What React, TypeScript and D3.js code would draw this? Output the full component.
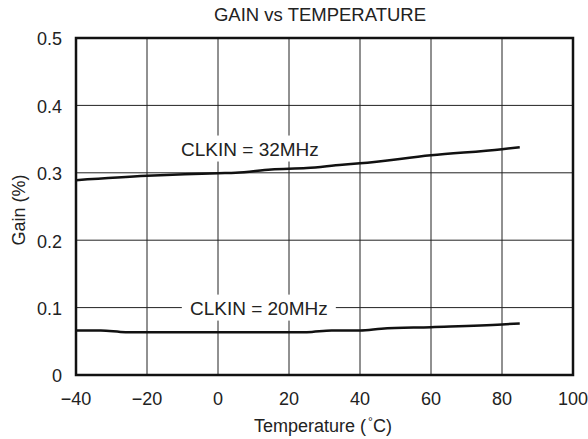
import React from "react";
import * as d3 from "d3";

const xTicks = [-40, -20, 0, 20, 40, 60, 80, 100];
const yTicks = [0, 0.1, 0.2, 0.3, 0.4, 0.5];
const yTickLabels = ["0", "0.1", "0.2", "0.3", "0.4", "0.5"];

const temp32 = [-40, -20, 0, 5, 15, 25, 35, 40, 60, 80, 85];
const gain32 = [0.289, 0.2955, 0.2995, 0.3, 0.305, 0.307, 0.312, 0.314, 0.326, 0.335, 0.338];

const temp20 = [-40, -33, -26, 25, 32, 40, 46, 60, 80, 85];
const gain20 = [0.066, 0.066, 0.0635, 0.0635, 0.066, 0.066, 0.0685, 0.071, 0.075, 0.0765];

const seriesLabels = [
  { text: "CLKIN = 32MHz", t: 9, g: 0.336 },
  { text: "CLKIN = 20MHz", t: 11.5, g: 0.1 },
];

const W = 588;
const H = 439;
const M = { left: 76, right: 15, top: 38, bottom: 64 };
const FONT = "'Liberation Sans', Arial, sans-serif";

export default function App() {
  const x = d3.scaleLinear().domain([-40, 100]).range([M.left, W - M.right]);
  const y = d3.scaleLinear().domain([0, 0.5]).range([H - M.bottom, M.top]);
  const line = d3
    .line<[number, number]>()
    .x((d) => x(d[0]))
    .y((d) => y(d[1]))
    .curve(d3.curveMonotoneX);
  const d32 = line(temp32.map((t, i) => [t, gain32[i]]));
  const d20 = line(temp20.map((t, i) => [t, gain20[i]]));
  const fs = 18;

  return (
    <svg width={W} height={H} style={{ position: "absolute", left: 0, top: 0, background: "#fff" }}>
      <rect width={W} height={H} fill="#fff" />
      {/* grid */}
      {xTicks.slice(1, -1).map((t) => (
        <line key={"gx" + t} x1={x(t)} x2={x(t)} y1={y(0.5)} y2={y(0)} stroke="#222" strokeWidth={1} />
      ))}
      {yTicks.slice(1, -1).map((t) => (
        <line key={"gy" + t} x1={x(-40)} x2={x(100)} y1={y(t)} y2={y(t)} stroke="#222" strokeWidth={1} />
      ))}
      {/* series label boxes */}
      {seriesLabels.map((l) => {
        const tw = 140;
        return (
          <g key={l.text}>
            <rect x={x(l.t) - tw / 2 - 7} y={y(l.g) - 13} width={tw + 14} height={26} fill="#fff" />
            <text x={x(l.t)} y={y(l.g) + 1} dy="0.35em" textAnchor="middle" fontFamily={FONT} fontSize={19} fill="#222">
              {l.text}
            </text>
          </g>
        );
      })}
      {/* lines */}
      <path d={d32 || ""} fill="none" stroke="#111" strokeWidth={2.5} />
      <path d={d20 || ""} fill="none" stroke="#111" strokeWidth={2.5} />
      {/* frame */}
      <rect x={x(-40)} y={y(0.5)} width={x(100) - x(-40)} height={y(0) - y(0.5)} fill="none" stroke="#111" strokeWidth={2.5} />
      {/* ticks */}
      {xTicks.map((t) => (
        <text key={"xt" + t} x={x(t)} y={y(0) + 30} textAnchor="middle" fontFamily={FONT} fontSize={fs} fill="#222">
          {t < 0 ? "\u2212" + Math.abs(t) : String(t)}
        </text>
      ))}
      {yTicks.map((t, i) => (
        <text key={"yt" + t} x={x(-40) - 14} y={y(t) + 1} dy="0.35em" textAnchor="end" fontFamily={FONT} fontSize={fs} fill="#222">
          {yTickLabels[i]}
        </text>
      ))}
      <text x={320} y={21} textAnchor="middle" fontFamily={FONT} fontSize={18.5} fill="#222">
        GAIN vs TEMPERATURE
      </text>
      <text x={323} y={432} textAnchor="middle" fontFamily={FONT} fontSize={fs} fill="#222">
        Temperature (<tspan dx={2} dy={-6} fontSize={12}>°</tspan>
        <tspan dy={6}>C)</tspan>
      </text>
      <text transform={`translate(25,210) rotate(-90)`} textAnchor="middle" fontFamily={FONT} fontSize={fs} fill="#222">
        Gain (%)
      </text>
    </svg>
  );
}
